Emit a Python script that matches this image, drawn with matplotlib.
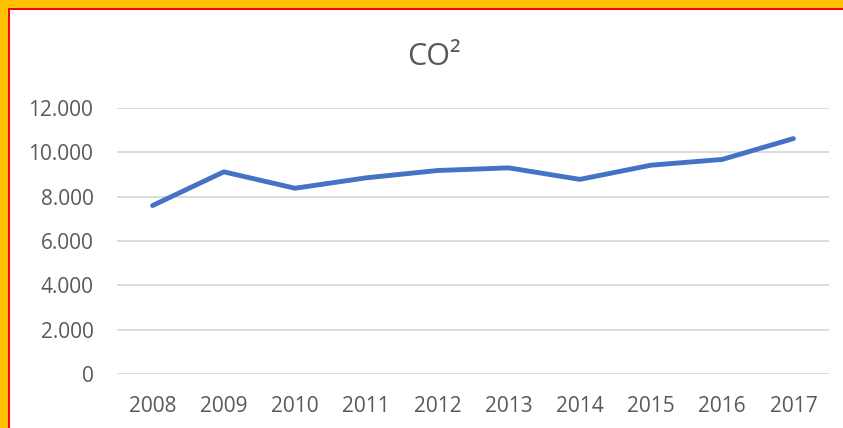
import matplotlib.pyplot as plt
from matplotlib.patches import Rectangle
from matplotlib.ticker import FuncFormatter

# Data
years = ['2008', '2009', '2010', '2011', '2012', '2013', '2014', '2015', '2016', '2017']
co2 = [7600, 9120, 8380, 8850, 9180, 9300, 8780, 9420, 9680, 10620]
yticks = [0, 2000, 4000, 6000, 8000, 10000, 12000]

plt.rcParams['font.family'] = ['Open Sans', 'DejaVu Sans']
text_color = '#595959'

W, H = 843, 428
fig = plt.figure(figsize=(W / 100, H / 100), dpi=100)
fig.patch.set_facecolor('#FFC000')

# red inner line, then white chart area
fig.add_artist(Rectangle((8 / W, 0), 1, 1 - 8 / H, transform=fig.transFigure,
                         facecolor='#FF0000', edgecolor='none', zorder=0))
fig.add_artist(Rectangle((10 / W, 0), 1, 1 - 10 / H, transform=fig.transFigure,
                         facecolor='white', edgecolor='none', zorder=0))

ax = fig.add_axes([117 / W, 1 - 374 / H, (829 - 117) / W, (374 - 108) / H])
ax.set_facecolor('none')

x = range(len(years))
ax.plot(x, co2, color='#4472C4', linewidth=3.5, solid_capstyle='round',
        solid_joinstyle='round', zorder=3)

ax.set_xlim(-0.5, len(years) - 0.5)
ax.set_ylim(0, 12000)
ax.set_xticks(list(x))
ax.set_xticklabels(years)
ax.set_yticks(yticks)
ax.yaxis.set_major_formatter(FuncFormatter(lambda v, p: f'{int(v):,}'.replace(',', '.')))

ax.grid(axis='y', color='#D9D9D9', linewidth=1.3)
ax.set_axisbelow(True)
for s in ax.spines.values():
    s.set_visible(False)
ax.tick_params(length=0, labelsize=15, colors=text_color)
ax.tick_params(axis='y', pad=17)
ax.tick_params(axis='x', pad=16)

fig.text(434 / W, 1 - 65 / H, 'CO²', ha='center', va='baseline',
         fontsize=22, color=text_color)

fig.savefig('out.png', dpi=100, facecolor=fig.get_facecolor())
